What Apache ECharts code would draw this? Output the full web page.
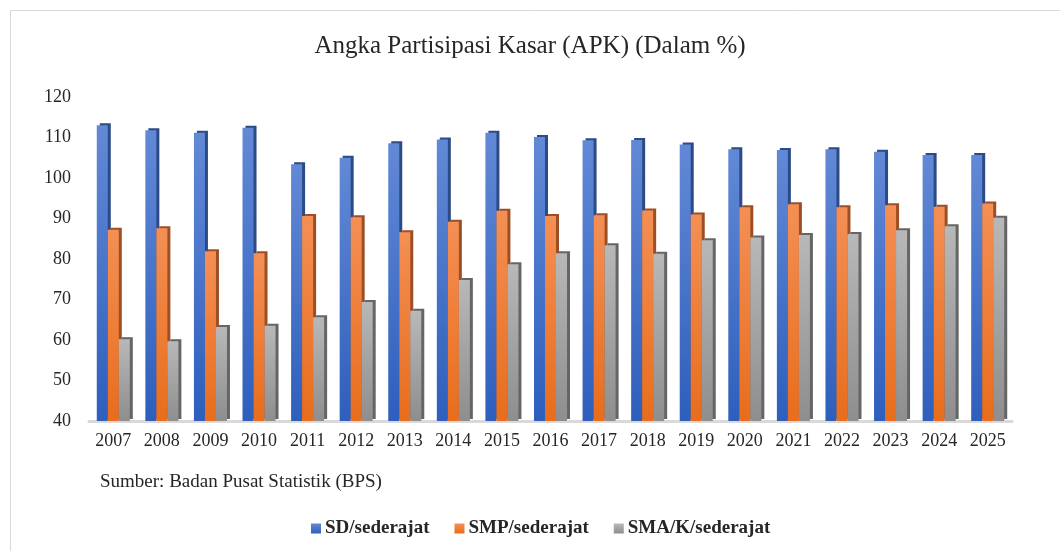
<!DOCTYPE html>
<html>
<head>
<meta charset="utf-8">
<script src="https://cdn.jsdelivr.net/npm/echarts@6/dist/echarts.min.js"></script>
<style>
html,body{margin:0;padding:0;background:#fff;}
#chart{width:1060px;height:551px;}
</style>
</head>
<body>
<div id="chart"></div>
<script>
var years = ['2007','2008','2009','2010','2011','2012','2013','2014','2015','2016','2017','2018','2019','2020','2021','2022','2023','2024','2025'];
var sd  = [113.0,111.8,111.2,112.4,103.4,105.0,108.6,109.5,111.2,110.1,109.3,109.4,108.3,107.1,106.9,107.1,106.5,105.7,105.7];
var smp = [87.2,87.6,81.9,81.4,90.6,90.3,86.6,89.2,91.9,90.6,90.8,92.0,91.0,92.8,93.5,92.8,93.3,92.9,93.7];
var sma = [60.2,59.7,63.2,63.5,65.6,69.4,67.2,74.8,78.7,81.4,83.4,81.3,84.6,85.3,85.9,86.2,87.1,88.1,90.2];
var yTicks = [40,50,60,70,80,90,100,110,120];
var seriesNames = ['SD/sederajat','SMP/sederajat','SMA/K/sederajat'];

var serif = '"Liberation Serif","DejaVu Serif",serif';

function grad(top, bottom){
  return new echarts.graphic.LinearGradient(0,0,0,1,[{offset:0,color:top},{offset:1,color:bottom}]);
}
function barSeries(name, data, top, bottom, side, legendColor){
  return {
    name: name,
    type: 'bar',
    data: data,
    barGap: '0%',
    barCategoryGap: '32%',
    color: legendColor,
    itemStyle: {
      color: grad(top, bottom),
      shadowColor: side,
      shadowBlur: 0,
      shadowOffsetX: 3,
      shadowOffsetY: -2
    },
    emphasis: {disabled: true}
  };
}

var chart = echarts.init(document.getElementById('chart'), null, {renderer:'canvas'});
chart.setOption({
  animation: false,
  backgroundColor: '#ffffff',
  title: {
    text: 'Angka Partisipasi Kasar (APK) (Dalam %)',
    left: 'center',
    top: 29,
    textStyle: {fontFamily: serif, fontSize: 25, fontWeight: 'normal', color: '#262626'}
  },
  legend: {
    data: seriesNames,
    bottom: 8,
    left: 306,
    itemWidth: 10,
    itemHeight: 10,
    itemGap: 25,
    icon: 'rect',
    textStyle: {fontFamily: serif, fontSize: 19, fontWeight: 'bold', color: '#262626', padding: [0,0,0,-1]}
  },
  grid: {left: 89, right: 48, top: 97, bottom: 130, containLabel: false},
  xAxis: {
    type: 'category',
    data: years,
    axisLine: {lineStyle: {color: '#d9d9d9', width: 3}},
    axisTick: {show: false},
    axisLabel: {fontFamily: serif, fontSize: 18, color: '#262626', margin: 11}
  },
  yAxis: {
    type: 'value',
    min: yTicks[0],
    max: yTicks[yTicks.length-1],
    interval: 10,
    axisLine: {show: false},
    axisTick: {show: false},
    splitLine: {show: false},
    axisLabel: {fontFamily: serif, fontSize: 18, color: '#262626', margin: 18}
  },
  graphic: [
    {type:'rect', shape:{x:10.5, y:10.5, width:1100, height:600}, style:{fill:'none', stroke:'#d9d9d9', lineWidth:1}, silent:true},
    {type:'text', left: 100, top: 473, style:{text:'Sumber: Badan Pusat Statistik (BPS)', fontFamily: serif, fontSize: 19, fill:'#262626'}}
  ],
  series: [
    barSeries(seriesNames[0], sd, '#6289d6', '#2e5fbd', '#2b4a86', '#4472c4'),
    barSeries(seriesNames[1], smp, '#f48f55', '#e86d1c', '#9c4f24', '#ed7d31'),
    barSeries(seriesNames[2], sma, '#b8b8b8', '#8e8e8e', '#656565', '#a5a5a5')
  ]
});
</script>
</body>
</html>
